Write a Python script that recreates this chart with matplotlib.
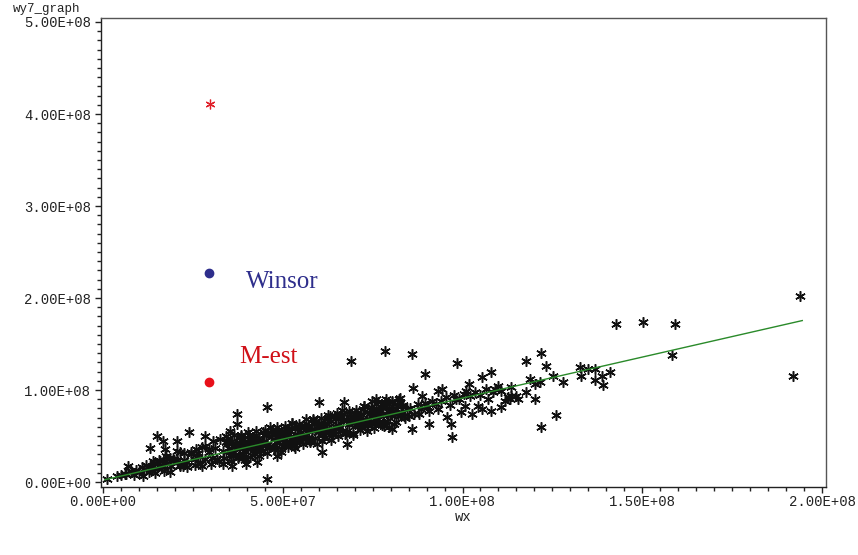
import numpy as np
import matplotlib
matplotlib.use("Agg")
import matplotlib.pyplot as plt
from matplotlib.ticker import MultipleLocator, FuncFormatter

# values in millions (scaled by 1e6 when plotted)
# sparse points
wx_spread = [193.9, 192.0, 142.7, 150.1, 159.0, 158.4,
             121.9, 117.7, 123.3, 125.2, 128.0, 132.7, 133.0, 134.9, 136.8, 136.8,
             138.8, 141.0, 139.1, 118.8, 120.2, 121.6, 117.7, 120.2, 115.0, 113.3,
             110.8, 113.6, 126.0, 121.9,
             85.9, 98.6, 89.5, 107.8, 105.3, 86.1, 93.3, 94.2, 101.7, 101.1, 97.0, 96.7, 90.6,
             69.0, 78.4, 67.0, 60.1, 74.8, 75.9, 78.7, 80.3,
             45.7, 37.4, 37.4, 45.7, 60.9, 48.5, 67.9,
             23.8, 15.0, 16.6, 20.5, 28.5, 13.0, 17.2, 6.9, 10.8, 13.0, 11.1, 1.1, 3.9,
             6.1, 13.9, 17.7, 21.3, 22.2, 26.0, 26.9, 30.5, 31.6, 34.3, 35.2, 37.9, 40.2,
             41.6, 39.9, 42.7, 36.0, 39.9,
             80.3, 85.9, 88.6, 82.3, 109.1, 113.6, 115.5, 111.9, 107.2, 104.4, 100.8, 98.1,
             102.5, 99.7, 105.3, 108.0, 93.3, 90.6, 95.6, 87.8, 85.0, 83.1, 110.8, 112.7]
wy_spread = [202.2, 115.2, 171.7, 173.9, 171.7, 138.0,
             140.2, 131.5, 126.1, 115.2, 108.7, 125.0, 115.2, 122.8, 122.8, 110.9,
             115.2, 119.6, 105.4, 112.0, 106.5, 108.7, 97.8, 90.2, 93.5, 90.2,
             98.9, 103.3, 72.8, 59.8,
             139.1, 129.4, 117.4, 119.6, 114.1, 102.2, 98.9, 101.1, 106.5, 98.9, 48.9, 63.0, 63.0,
             131.5, 142.4, 87.0, 87.0, 88.0, 90.2, 90.2, 88.0,
             81.5, 73.9, 63.0, 3.3, 32.6, 28.3, 41.3,
             54.4, 50.0, 44.6, 44.6, 50.0, 37.0, 35.9, 17.4, 16.3, 14.1, 6.5, 3.3, 6.5,
             8.7, 22.8, 25.0, 32.6, 17.4, 35.9, 19.6, 44.6, 25.0, 50.0, 55.4, 39.1, 54.4,
             46.7, 25.0, 21.7, 17.4, 19.6,
             57.6, 57.6, 93.5, 90.2, 101.1, 93.5, 90.2, 88.0, 90.2, 82.6, 82.6, 90.2,
             73.9, 76.1, 79.4, 77.2, 79.4, 77.2, 70.7, 73.9, 71.7, 82.6, 81.5, 92.4]

# dense band, left part
wx_left = [5.0, 6.5, 7.8, 8.5, 9.2, 10.0, 11.5, 12.0, 12.8, 13.5, 14.2, 15.0, 15.8,
           16.5, 17.0, 17.8, 18.5, 19.0, 19.8,
           20.5, 21.5, 22.5, 23.5, 24.5, 25.5, 26.5, 27.5, 28.5, 29.5, 30.0,
           14.5, 15.5, 16.5, 17.5, 18.5, 19.5, 20.5, 21.5, 22.5, 23.5, 24.5, 25.5,
           26.5, 27.5, 28.5, 29.5]
wy_left = [7.5, 9.0, 12.0, 8.0, 13.5, 10.5, 14.0, 18.5, 11.0, 16.0, 20.5, 15.5, 23.0,
           18.0, 12.5, 21.0, 26.5, 17.0, 24.0,
           24.5, 17.4, 31.3, 22.2, 30.1, 18.0, 27.9, 37.8, 24.7, 35.6, 20.0,
           10.1, 24.0, 15.9, 28.8, 10.7, 24.6, 33.5, 18.4, 24.3, 16.2, 33.1, 25.0,
           31.9, 17.8, 39.7, 32.6]

# dense band, middle
wx_mid = [35.0, 35.5, 36.0, 36.5, 37.0, 37.5, 38.0, 38.5, 39.0, 39.5,
          40.0, 40.5, 41.0, 41.5, 42.0, 42.5, 43.0, 43.5, 44.0, 44.5,
          45.0, 45.5, 46.0, 46.5, 47.0, 47.5, 48.0, 48.5, 49.0, 49.5,
          50.0, 50.5, 51.0, 51.5, 52.0, 52.5, 53.0, 53.5, 54.0, 54.5,
          55.0, 55.5, 56.0, 56.5, 57.0, 57.5, 58.0, 58.5, 59.0, 59.5,
          60.0, 60.5, 61.0, 61.5, 62.0, 62.5, 63.0, 63.5, 64.0, 64.5,
          65.0, 65.5, 66.0, 66.5, 67.0, 67.5, 68.0, 68.5, 69.0, 69.5,
          70.0, 70.5, 71.0, 71.5, 72.0, 72.5, 73.0, 73.5, 74.0, 74.5,
          75.0, 75.5, 76.0, 76.5, 77.0, 77.5, 78.0, 78.5, 79.0, 79.5,
          80.0, 80.5, 81.0, 81.5, 82.0, 82.5, 83.0, 83.5, 84.0, 84.5]
wy_mid = [36.5, 29.0, 44.4, 32.9, 41.3, 25.8, 38.2, 49.7, 30.1, 42.6,
          38.0, 46.5, 26.9, 43.4, 35.8, 51.3, 39.7, 48.2, 33.6, 43.1,
          56.5, 40.0, 52.4, 37.9, 56.3, 35.8, 49.2, 44.7, 53.1, 35.6,
          49.0, 57.5, 43.9, 53.4, 41.8, 64.3, 47.7, 58.2, 50.6, 46.1,
          54.5, 47.0, 62.4, 50.9, 59.3, 43.8, 56.2, 67.7, 48.1, 60.6,
          56.0, 64.5, 44.9, 61.4, 53.8, 69.3, 57.7, 66.2, 51.6, 61.1,
          74.5, 58.0, 70.4, 55.9, 74.3, 53.8, 67.2, 62.7, 71.1, 53.6,
          67.0, 75.5, 61.9, 71.4, 59.8, 82.3, 65.7, 76.2, 68.6, 64.1,
          72.5, 65.0, 80.4, 68.9, 77.3, 61.8, 74.2, 85.7, 66.1, 78.6,
          74.0, 82.5, 62.9, 79.4, 71.8, 87.3, 75.7, 84.2, 69.6, 79.1]

# dense band, more layers
wx_mid2 = [30.25, 31.25, 32.25, 33.25, 34.25, 35.25, 36.25, 37.25, 38.25, 39.25,
           40.25, 41.25, 42.25, 43.25, 44.25, 45.25, 46.25, 47.25, 48.25, 49.25,
           50.25, 51.25, 52.25, 53.25, 54.25, 55.25, 56.25, 57.25, 58.25, 59.25,
           60.25, 61.25, 62.25, 63.25, 64.25, 65.25, 66.25, 67.25, 68.25, 69.25,
           70.25, 71.25, 72.25, 73.25, 74.25, 75.25, 76.25, 77.25, 78.25, 79.25]
wy_mid2 = [26.2, 37.1, 23.0, 33.9, 43.8, 32.7, 28.6, 40.5, 49.4, 33.3,
           39.2, 48.1, 30.0, 44.9, 41.8, 50.7, 38.6, 56.5, 43.4, 52.3,
           40.2, 51.1, 59.0, 38.9, 50.8, 48.7, 59.6, 45.5, 56.4, 66.3,
           55.2, 51.1, 63.0, 71.9, 55.8, 61.7, 70.6, 52.5, 67.4, 64.3,
           73.2, 61.1, 79.0, 65.9, 74.8, 62.7, 73.6, 81.5, 61.4, 73.3]

wx_mid3 = [32.5, 33.5, 34.5, 35.5, 36.5, 37.5, 38.5, 39.5, 40.5, 41.5,
           42.5, 43.5, 44.5, 45.5, 46.5, 47.5, 48.5, 49.5, 50.5, 51.5,
           52.5, 53.5, 54.5, 55.5, 56.5, 57.5, 58.5, 59.5, 60.5, 61.5,
           62.5, 63.5, 64.5, 65.5, 66.5, 67.5, 68.5, 69.5, 70.5, 71.5,
           72.5, 73.5, 74.5, 75.5, 76.5, 77.5, 78.5, 79.5, 80.5, 81.5, 82.5]
wy_mid3 = [46.3, 19.2, 45.1, 23.0, 50.9, 26.8, 50.7, 23.6, 51.5, 29.4,
           55.3, 28.2, 54.1, 32.0, 59.9, 35.8, 59.7, 32.6, 60.5, 38.4,
           64.3, 37.2, 63.1, 41.0, 68.9, 44.8, 68.7, 41.6, 69.5, 47.4,
           73.3, 46.2, 72.1, 50.0, 77.9, 53.8, 77.7, 50.6, 78.5, 56.4,
           82.3, 55.2, 81.1, 59.0, 86.9, 62.8, 86.7, 59.6, 87.5, 65.4, 91.3]

wx_mid4 = [33.75, 34.75, 35.75, 36.75, 37.75, 38.75, 39.75, 40.75, 41.75, 42.75,
           43.75, 44.75, 45.75, 46.75, 47.75, 48.75, 49.75, 50.75, 51.75, 52.75,
           53.75, 54.75, 55.75, 56.75, 57.75, 58.75, 59.75, 60.75, 61.75, 62.75,
           63.75, 64.75, 65.75, 66.75, 67.75, 68.75, 69.75, 70.75, 71.75, 72.75,
           73.75, 74.75, 75.75, 76.75, 77.75, 78.75, 79.75, 80.75, 81.75, 82.75, 83.75]
wy_mid4 = [26.4, 42.3, 32.2, 40.1, 28.0, 46.9, 36.8, 40.7, 46.6, 36.5,
           35.4, 51.3, 41.2, 49.1, 37.0, 55.9, 45.8, 49.7, 55.6, 45.5,
           44.4, 60.3, 50.2, 58.1, 46.0, 64.9, 54.8, 58.7, 64.6, 54.5,
           53.4, 69.3, 59.2, 67.1, 55.0, 73.9, 63.8, 67.7, 73.6, 63.5,
           62.4, 78.3, 68.2, 76.1, 64.0, 82.9, 72.8, 76.7, 82.6, 72.5, 71.4]

# band, right part
wx_right = [85.5, 86.5, 87.5, 88.5, 89.5, 90.5, 91.5, 92.5, 94.0, 95.5,
            96.5, 97.5, 99.0, 100.5, 102.0, 103.5, 105.0, 106.5, 108.5, 110.0]
wy_right = [80.0, 74.0, 84.5, 79.0, 86.0, 82.0, 88.5, 85.0, 88.0, 92.0,
            84.0, 94.5, 90.0, 96.0, 93.0, 97.5, 95.0, 101.0, 98.0, 104.0]

# regression line ends
fit_x = [0.5, 194.5]
fit_y = [2.5, 175.5]

# highlighted estimates
raw_x, raw_y = 29.9, 411.0
winsor_x, winsor_y = 29.6, 227.0
mest_x, mest_y = 29.6, 108.7

wx = np.array(wx_spread + wx_left + wx_mid + wx_mid2 + wx_mid3 + wx_mid4 + wx_right) * 1e6
wy = np.array(wy_spread + wy_left + wy_mid + wy_mid2 + wy_mid3 + wy_mid4 + wy_right) * 1e6

fig = plt.figure(figsize=(8.58, 5.55), dpi=100)
ax = fig.add_axes([0.1177, 0.1225, 0.845, 0.845])

star = (6, 2, 0)
ax.plot(wx, wy, linestyle="none", marker=star, markersize=7.5,
        markeredgecolor="#111111", markeredgewidth=1.1, zorder=2)
ax.plot(np.array(fit_x) * 1e6, np.array(fit_y) * 1e6, color="#2a8a2a", lw=1.0, zorder=3)

ax.plot([raw_x * 1e6], [raw_y * 1e6], linestyle="none", marker=star, markersize=7,
        markeredgecolor="#e0202a", markeredgewidth=0.9)
ax.plot([winsor_x * 1e6], [winsor_y * 1e6], "o", color="#2e2e8c", markersize=6)
ax.plot([mest_x * 1e6], [mest_y * 1e6], "o", color="#e8101a", markersize=6)

ax.text(39.9e6, 217.0e6, "Winsor", family="Liberation Serif", fontsize=18,
        color="#2e2e8c", ha="left", va="center")
ax.text(37.9e6, 135.5e6, "M-est", family="Liberation Serif", fontsize=18,
        color="#d01018", ha="left", va="center")

ax.set_xlim(-0.56e6, 2.011e8)
ax.set_ylim(-0.054e8, 5.043e8)

ax.xaxis.set_major_locator(MultipleLocator(5e7))
ax.xaxis.set_minor_locator(MultipleLocator(5e6))
ax.yaxis.set_major_locator(MultipleLocator(1e8))
ax.yaxis.set_minor_locator(MultipleLocator(1e7))
fmt = FuncFormatter(lambda v, pos: f"{v:.2E}")
ax.xaxis.set_major_formatter(fmt)
ax.yaxis.set_major_formatter(fmt)

ax.tick_params(which="major", direction="out", length=4, width=1, color="#222222")
ax.tick_params(which="minor", direction="out", length=3, width=1, color="#222222")
ax.tick_params(axis="x", which="major", pad=1.5)
ax.tick_params(axis="y", which="major", pad=3)
for lab in ax.get_xticklabels() + ax.get_yticklabels():
    lab.set_family("Liberation Mono")
    lab.set_fontsize(10)
    lab.set_color("#222222")

for side in ["left", "bottom"]:
    ax.spines[side].set_color("#222222")
    ax.spines[side].set_linewidth(1.0)
for side in ["top", "right"]:
    ax.spines[side].set_color("#555555")
    ax.spines[side].set_linewidth(1.0)

fig.text(13 / 858, 1 - 9 / 555, "wy7_graph", family="Liberation Mono",
         fontsize=9, color="#222222", ha="left", va="center")
fig.text(463 / 858, 1 - 517 / 555, "wx", family="Liberation Mono",
         fontsize=10, color="#222222", ha="center", va="center")

fig.savefig("out.png", dpi=100)
